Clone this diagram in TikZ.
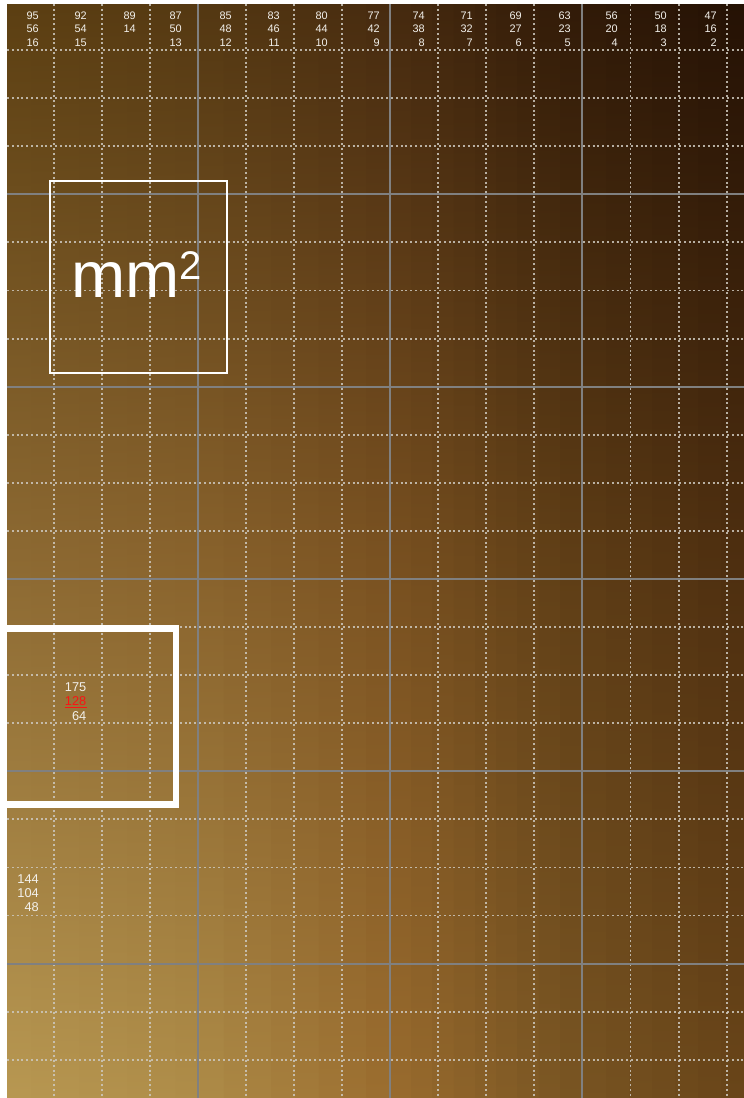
\documentclass[tikz,border=0pt]{standalone}
\usepackage{fontspec}
\setmainfont{Liberation Sans}
\usepackage{xcolor}
\usepackage{tikz}
\usetikzlibrary{positioning}

% background stations: top / middle / bottom at x = 7, 200, 390, 560, 744
\definecolor{top0}{RGB}{92,63,18}
\definecolor{top1}{RGB}{84,56,18}
\definecolor{top2}{RGB}{70,42,15}
\definecolor{top3}{RGB}{50,27,8}
\definecolor{top4}{RGB}{36,17,4}
\definecolor{mid0}{RGB}{140,105,50}
\definecolor{mid1}{RGB}{136,98,44}
\definecolor{mid2}{RGB}{120,80,32}
\definecolor{mid3}{RGB}{95,62,22}
\definecolor{mid4}{RGB}{76,45,15}
\definecolor{bot0}{RGB}{184,152,82}
\definecolor{bot1}{RGB}{174,140,72}
\definecolor{bot2}{RGB}{154,108,46}
\definecolor{bot3}{RGB}{122,86,35}
\definecolor{bot4}{RGB}{104,68,24}
\definecolor{gridgray}{RGB}{128,128,128}
\definecolor{dotwhite}{RGB}{205,200,190}
\definecolor{labelwhite}{RGB}{242,240,235}
\definecolor{markred}{RGB}{250,20,20}

\begin{document}
\begin{tikzpicture}[
    x=1pt, y=-1pt,
    major/.style={draw=gridgray, line width=2pt},
    minor/.style={draw=dotwhite, draw opacity=0.85, line width=1.9pt, dash pattern=on 1.9pt off 2.9pt},
    toplabel/.style={anchor=base east, inner sep=0pt, text=labelwhite, font=\fontsize{10.9}{13}\selectfont},
    cornerlabel/.style={toplabel, font=\fontsize{12.8}{14}\selectfont},
    unitbox/.style={draw=white, line width=2pt},
    focusbox/.style={draw=white, line width=6.5pt},
  ]

  % Page and margins
  \useasboundingbox (0,0) rectangle (744,1098);
  \fill[white] (0,0) rectangle (744,1098);

  % Brown gradient, drawn as thin shaded strips
  \foreach \xa/\xb/\ca/\cb in {7/200/0/1, 200/390/1/2, 390/560/2/3, 560/744/3/4}{
    \foreach \k in {0,...,7}{
      \pgfmathsetmacro\xl{\xa+(\xb-\xa)*\k/8}
      \pgfmathsetmacro\xr{\xa+(\xb-\xa)*(\k+1)/8+0.6}
      \pgfmathtruncatemacro\p{100*(\k+0.5)/8}
      \shade[top color=top\cb!\p!top\ca, bottom color=bot\cb!\p!bot\ca, middle color=mid\cb!\p!mid\ca]
        (\xl,4) rectangle (\xr,1098);
    }
  }

  % Dotted grid
  \foreach \k in {1,2,3,5,6,7,9,10,11,13,14,15}
    \draw[minor] (5.5+48.08*\k,4) -- (5.5+48.08*\k,1098);
  \foreach \k in {1,2,3,5,6,7,9,10,11,13,14,15,17,18,19,21,22}
    \draw[minor] (7,2+48.08*\k) -- (744,2+48.08*\k);

  % Solid grid every fourth line
  \foreach \k in {4,8,12}
    \draw[major] (5.5+48.08*\k,4) -- (5.5+48.08*\k,1098);
  \foreach \k in {4,8,12,16,20}
    \draw[major] (7,2+48.08*\k) -- (744,2+48.08*\k);

  % Column values along the top
  \foreach \x/\a/\b/\c [count=\i] in {39/95/56/16, 87/92/54/15, 136/89/14/, 182/87/50/13,
      232/85/48/12, 280/83/46/11, 328/80/44/10, 380/77/42/9, 425/74/38/8, 473/71/32/7,
      522/69/27/6, 571/63/23/5, 618/56/20/4, 667/50/18/3, 717/47/16/2}{
    \node[toplabel] (a\i) at (\x,19.3) {\a};
    \node[toplabel] (b\i) at (\x,32.8) {\b};
    \node[toplabel] (c\i) at (\x,46.8) {\c};
  }

  % Unit box
  \draw[unitbox] (50,180.5) rectangle (227,372.5);
  \node[anchor=base west, inner sep=0pt, text=white, font=\fontsize{65}{70}\selectfont]
    (unit) at (71.5,297) {mm\raisebox{18pt}{\fontsize{40}{40}\selectfont 2}};

  % Highlighted cell
  \draw[focusbox] (0,628.3) rectangle (176,804.7);
  \node[cornerlabel] (hi) at (86.5,691) {175};
  \node[cornerlabel, text=markred] (mark) at (86.5,705.3) {128};
  \draw[markred, line width=1.2pt] ([yshift=-2pt]mark.base west) -- ([yshift=-2pt]mark.base east);
  \node[cornerlabel] (lo) at (86.5,720) {64};

  % Values lower left
  \node[cornerlabel] (p1) at (39,883.3) {144};
  \node[cornerlabel] (p2) at (39,897.7) {104};
  \node[cornerlabel] (p3) at (39,911) {48};

\end{tikzpicture}
\end{document}
